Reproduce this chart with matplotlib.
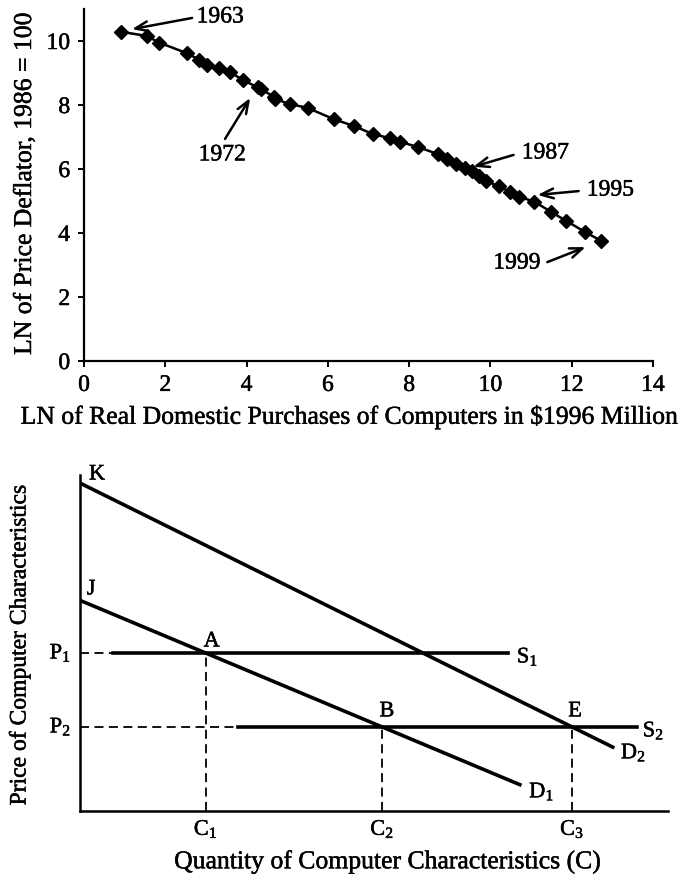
import numpy as np
import matplotlib
matplotlib.use("Agg")
import matplotlib.pyplot as plt
import matplotlib.patheffects as pe

plt.rcParams['font.family'] = ['Liberation Serif', 'DejaVu Serif']
plt.rcParams['mathtext.fontset'] = 'custom'
plt.rcParams['mathtext.rm'] = 'Liberation Serif'
plt.rcParams['mathtext.it'] = 'Liberation Serif'

# heavier text, like the printed page
bold_ish = [pe.withStroke(linewidth=0.35, foreground='black')]

# top panel: ln of real purchases vs ln of price deflator, 1963-1999
ln_purchases = [0.90, 1.54, 1.85, 2.53, 2.84, 3.02, 3.33, 3.58, 3.91, 4.27,
                4.35, 4.68, 4.71, 5.07, 5.50, 6.16, 6.65, 7.11, 7.54, 7.78,
                8.23, 8.70, 8.93, 9.16, 9.38, 9.55, 9.71, 9.88, 10.20, 10.47,
                10.71, 11.08, 11.48, 11.86, 12.32, 12.73]
ln_price = [10.29, 10.16, 9.95, 9.62, 9.41, 9.25, 9.15, 9.04, 8.78, 8.55,
            8.49, 8.26, 8.18, 8.03, 7.91, 7.55, 7.34, 7.09, 6.96, 6.85,
            6.68, 6.47, 6.31, 6.16, 6.02, 5.95, 5.78, 5.62, 5.47, 5.29,
            5.13, 4.98, 4.67, 4.38, 4.04, 3.75]

# year labels: text position, arrow tail, arrow head (data units)
year_labels = ['1963', '1972', '1987', '1995', '1999']
label_xy = [(3.35, 10.75), (3.40, 6.44), (11.35, 6.50), (12.95, 5.34), (10.65, 3.06)]
arrow_tail = [(2.66, 10.72), (3.47, 6.94), (10.57, 6.44), (12.17, 5.31), (11.40, 3.09)]
arrow_head = [(1.18, 10.37), (4.09, 8.22), (9.58, 6.07), (11.16, 5.19), (12.34, 3.56)]

x_ticks = [0, 2, 4, 6, 8, 10, 12, 14]
y_ticks = [0, 2, 4, 6, 8, 10]

# bottom panel: supply / demand diagram
P1, P2 = 4.70, 2.50
C1, C2, C3 = 2.14, 5.14, 8.37
S1_span = (0.56, 7.28)
S2_span = (2.69, 9.47)
K_price = 9.76
J_price = 6.27
D1_end = 7.48
D2_end = 9.06

fig = plt.figure(figsize=(6.92, 8.77), dpi=100)

# ---------------- top panel ----------------
ax1 = fig.add_axes([84/692, 1-361/877, 569/692, 352/877])
ax1.plot(ln_purchases, ln_price, color='black', lw=1.8, marker='D', markersize=6.8)
ax1.set_xlim(0, 14)
ax1.set_ylim(0, 11)
ax1.set_xticks(x_ticks)
ax1.set_yticks(y_ticks)
ax1.spines['top'].set_visible(False)
ax1.spines['right'].set_visible(False)
for s in ['left', 'bottom']:
    ax1.spines[s].set_linewidth(1.6)
ax1.tick_params(direction='out', length=4, width=1.4, labelsize=17, pad=6)
for lab in ax1.get_xticklabels() + ax1.get_yticklabels():
    lab.set_path_effects(bold_ish)

for txt, xy, tail, head in zip(year_labels, label_xy, arrow_tail, arrow_head):
    ax1.text(xy[0], xy[1], txt, fontsize=17, ha='center', va='center',
             path_effects=bold_ish)
    ax1.annotate('', xy=head, xytext=tail,
                 arrowprops=dict(arrowstyle='->, head_length=0.9, head_width=0.35',
                                 lw=1.8, color='black', shrinkA=0, shrinkB=0))

fig.text(25/692, 1-183/877, 'LN of Price Deflator, 1986 = 100', rotation=90,
         fontsize=18.5, ha='center', va='center', path_effects=bold_ish)
fig.text(350/692, 1-417/877,
         'LN of Real Domestic Purchases of Computers in $1996 Million',
         fontsize=18.5, ha='center', va='center', path_effects=bold_ish)

# ---------------- bottom panel ----------------
ax2 = fig.add_axes([80/692, 1-811/877, 588/692, 336/877])
ax2.set_xlim(0, 10)
ax2.set_ylim(0, 10)
ax2.set_xticks([])
ax2.set_yticks([])
ax2.spines['top'].set_visible(False)
ax2.spines['right'].set_visible(False)
for s in ['left', 'bottom']:
    ax2.spines[s].set_linewidth(1.8)

lw = 2.6
d1_slope = (P2 - P1) / (C2 - C1)
d1_int = P1 - d1_slope * C1
d2_slope = (P2 - K_price) / C3
ax2.plot([0, D1_end], [d1_int, d1_int + d1_slope * D1_end], color='black', lw=lw)
ax2.plot([0, D2_end], [K_price, K_price + d2_slope * D2_end], color='black', lw=lw)
ax2.plot(S1_span, [P1, P1], color='black', lw=lw)
ax2.plot(S2_span, [P2, P2], color='black', lw=lw)

dash = dict(color='black', lw=1.3, ls=(0, (5, 3)))
ax2.plot([0, S1_span[0]], [P1, P1], **dash)
ax2.plot([0, S2_span[0]], [P2, P2], **dash)
for c, p in zip([C1, C2, C3], [P1, P2, P2]):
    ax2.plot([c, c], [0, p], **dash)

fs = 16
kw = dict(fontsize=fs, va='center', path_effects=bold_ish)
ax2.text(0.29, 10.0, 'K', ha='center', **kw)
ax2.text(0.19, 6.58, 'J', ha='center', **kw)
ax2.text(2.24, 5.03, 'A', ha='center', **kw)
ax2.text(5.22, 2.95, 'B', ha='center', **kw)
ax2.text(8.42, 2.95, 'E', ha='center', **kw)
ax2.text(7.43, P1 - 0.12, r'S$_1$', ha='left', **kw)
ax2.text(9.57, P2 - 0.12, r'S$_2$', ha='left', **kw)
ax2.text(7.64, 0.57, r'D$_1$', ha='left', **kw)
ax2.text(9.20, 1.73, r'D$_2$', ha='left', **kw)
ax2.text(-0.15, P1, r'P$_1$', ha='right', **kw)
ax2.text(-0.15, P2, r'P$_2$', ha='right', **kw)
for c, name in zip([C1, C2, C3], [r'C$_1$', r'C$_2$', r'C$_3$']):
    ax2.text(c, -0.55, name, ha='center', **kw)

fig.text(20/692, 1-645/877, 'Price of Computer Characteristics', rotation=90,
         fontsize=17, ha='center', va='center', path_effects=bold_ish)
fig.text(388/692, 1-862/877, 'Quantity of Computer Characteristics (C)',
         fontsize=18.5, ha='center', va='center', path_effects=bold_ish)

fig.savefig('out.png', dpi=100)
